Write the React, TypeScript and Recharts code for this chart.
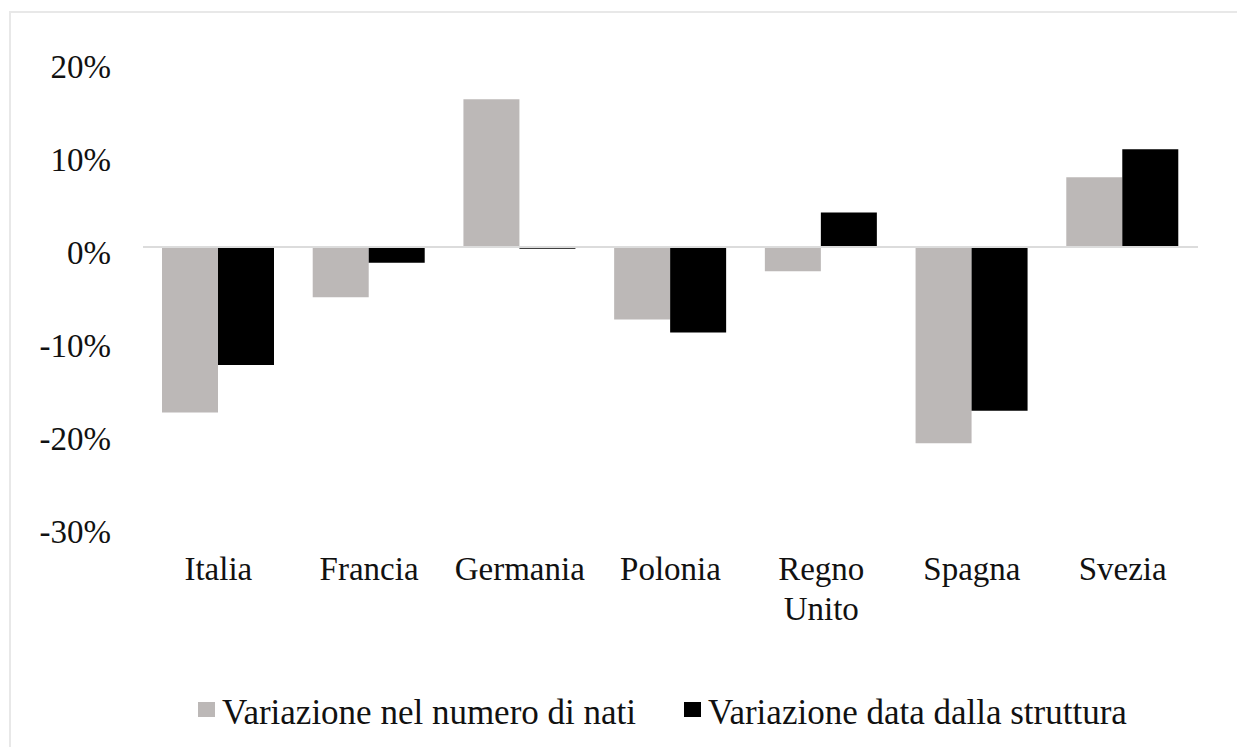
import { Bar, BarChart, ReferenceLine, XAxis, YAxis } from "recharts";

const countries = ["Italia", "Francia", "Germania", "Polonia", "Regno Unito", "Spagna", "Svezia"];
const natiValues = [-17.8, -5.4, 15.9, -7.8, -2.6, -21.1, 7.5];
const strutturaValues = [-12.7, -1.7, -0.2, -9.2, 3.7, -17.6, 10.5];
const yTicks = [-30, -20, -10, 0, 10, 20];
const seriesNames = ["Variazione nel numero di nati", "Variazione data dalla struttura"];
const seriesColors = ["#bcb8b7", "#000000"];

const data = countries.map((name, i) => ({
  name,
  nati: natiValues[i],
  struttura: strutturaValues[i],
}));

const FONT = "Liberation Serif, DejaVu Serif, serif";

function CountryTick(props: any) {
  const { x, y, payload } = props;
  const lines = String(payload.value).split(" ");
  return (
    <text x={x} y={y} textAnchor="middle" fill="#111" style={{ fontFamily: FONT }} fontSize={33}>
      {lines.map((line: string, i: number) => (
        <tspan key={i} x={x} dy={i === 0 ? "0.71em" : 40}>
          {line}
        </tspan>
      ))}
    </text>
  );
}

function PercentTick(props: any) {
  const { x, y, payload } = props;
  return (
    <text x={x} y={y + 5} dy="0.355em" textAnchor="end" fill="#111" style={{ fontFamily: FONT }} fontSize={33}>
      {payload.value}%
    </text>
  );
}

export default function App() {
  return (
    <div
      style={{
        position: "absolute",
        top: 0,
        left: 0,
        width: 1237,
        height: 747,
        overflow: "hidden",
        background: "#fff",
        fontFamily: FONT,
      }}
    >
      <div
        style={{
          position: "absolute",
          left: 9,
          top: 11,
          width: 1260,
          height: 780,
          border: "2px solid #e8e8e8",
        }}
      />
      <div style={{ position: "absolute", left: 0, top: 0 }}>
        <BarChart
          width={1237}
          height={747}
          data={data}
          margin={{ top: 61, right: 39, left: 0, bottom: 0 }}
          barCategoryGap={19}
          barGap={0}
        >
          <XAxis
            dataKey="name"
            axisLine={false}
            tickLine={false}
            tickMargin={25}
            height={221}
            interval={0}
            tick={<CountryTick />}
          />
          <YAxis
            domain={[-30, 20]}
            ticks={yTicks}
            axisLine={false}
            tickLine={false}
            tickMargin={26}
            width={143}
            tick={<PercentTick />}
          />
          <Bar dataKey="nati" fill={seriesColors[0]} isAnimationActive={false} />
          <Bar dataKey="struttura" fill={seriesColors[1]} isAnimationActive={false} />
          <ReferenceLine y={0} stroke="#dcdcdc" strokeWidth={2} />
        </BarChart>
      </div>
      <div
        style={{
          position: "absolute",
          left: 198,
          top: 692,
          display: "flex",
          gap: 48,
          fontSize: 35,
          color: "#111",
          lineHeight: "41px",
          whiteSpace: "nowrap",
        }}
      >
        {seriesNames.map((name, i) => (
          <div key={name} style={{ display: "flex", alignItems: "center" }}>
            <span
              style={{
                display: "inline-block",
                width: 17,
                height: 15,
                background: seriesColors[i],
                marginRight: 7,
                marginTop: -6,
              }}
            />
            <span>{name}</span>
          </div>
        ))}
      </div>
    </div>
  );
}
